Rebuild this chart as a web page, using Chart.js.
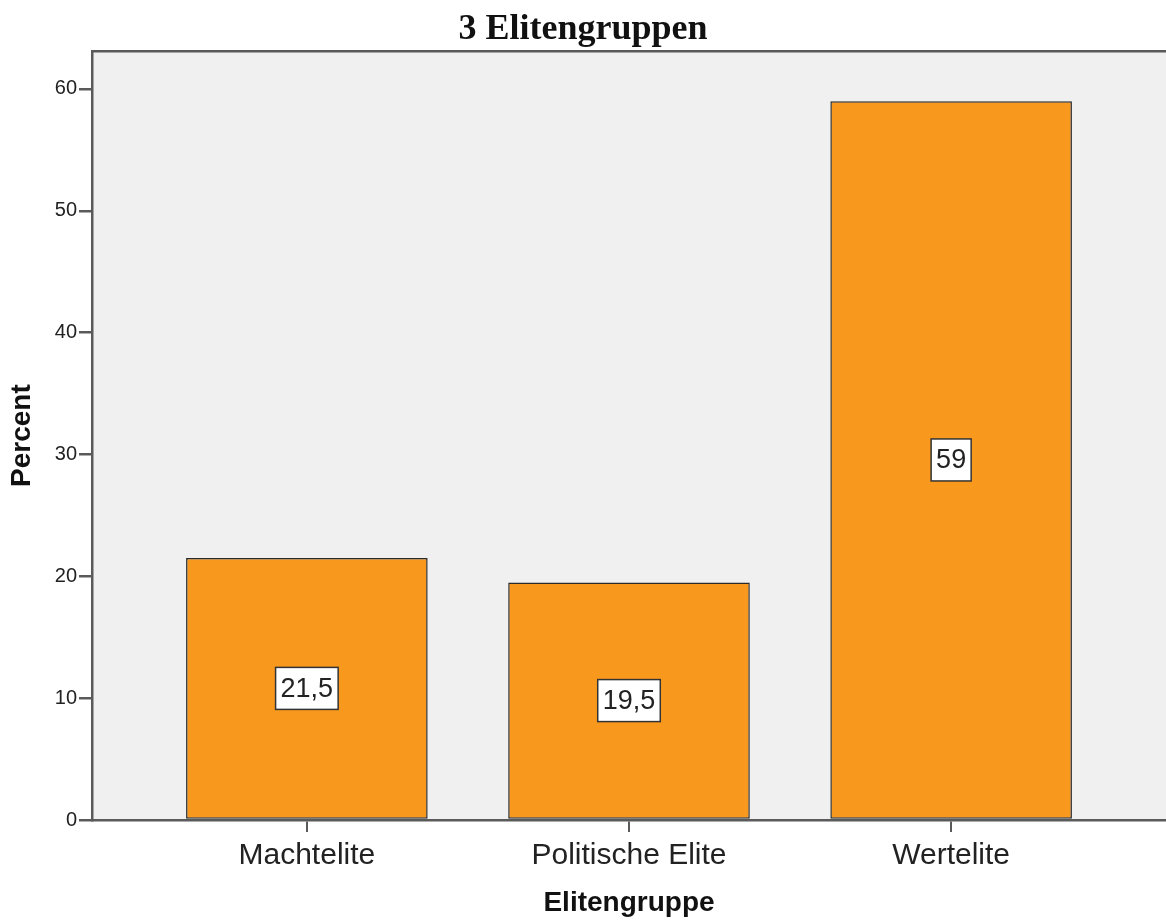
<!DOCTYPE html>
<html lang="de">
<head>
  <meta charset="UTF-8">
  <title>3 Elitengruppen</title>
  <script src="https://cdn.jsdelivr.net/npm/chart.js"></script>
  <style>
    body { margin: 0; background: #ffffff; }
    .chart-box { width: 1166px; height: 920px; }
  </style>
</head>
<body>
  <div class="chart-box">
    <canvas id="eliteChart"></canvas>
  </div>

  <script>
    const categories = ['Machtelite', 'Politische Elite', 'Wertelite'];
    const percents = [21.5, 19.5, 59];
    const valueLabels = ['21,5', '19,5', '59'];
    const yTicks = [0, 10, 20, 30, 40, 50, 60];

    const axisColor = '#5a5a5a';

    // grey plot background plus the top frame line
    const plotFrame = {
      id: 'plotFrame',
      beforeDraw(chart) {
        const { ctx, chartArea: a } = chart;
        ctx.save();
        ctx.fillStyle = '#f0f0f0';
        ctx.fillRect(a.left, a.top, a.right - a.left, a.bottom - a.top);
        ctx.strokeStyle = axisColor;
        ctx.lineWidth = 2.5;
        ctx.beginPath();
        ctx.moveTo(a.left, a.top);
        ctx.lineTo(a.right, a.top);
        ctx.stroke();
        ctx.restore();
      }
    };

    // value labels in white boxes, centred in each bar
    const boxLabels = {
      id: 'boxLabels',
      afterDatasetsDraw(chart) {
        const { ctx } = chart;
        const meta = chart.getDatasetMeta(0);
        ctx.save();
        ctx.font = '27px "Liberation Sans", Arial, sans-serif';
        ctx.textAlign = 'center';
        ctx.textBaseline = 'middle';
        meta.data.forEach((bar, i) => {
          const txt = valueLabels[i];
          const cy = (bar.y + bar.base) / 2;
          const w = ctx.measureText(txt).width + 10;
          const h = 42;
          ctx.fillStyle = '#ffffff';
          ctx.fillRect(bar.x - w / 2, cy - h / 2, w, h);
          ctx.strokeStyle = '#333333';
          ctx.lineWidth = 1.5;
          ctx.strokeRect(bar.x - w / 2, cy - h / 2, w, h);
          ctx.fillStyle = '#222222';
          ctx.fillText(txt, bar.x, cy + 1);
        });
        ctx.restore();
      }
    };

    const ctx = document.getElementById('eliteChart').getContext('2d');
    new Chart(ctx, {
      type: 'bar',
      data: {
        datasets: [{
          label: 'Percent',
          data: percents.map((v, i) => ({ x: i, y: v })),
          backgroundColor: '#f8991d',
          borderColor: '#2a2a2a',
          borderWidth: 1.5,
          borderSkipped: false,
          barPercentage: 0.75,
          categoryPercentage: 1
        }]
      },
      options: {
        responsive: true,
        maintainAspectRatio: false,
        animation: false,
        plugins: {
          legend: { display: false },
          tooltip: { enabled: false },
          title: {
            display: true,
            text: '3 Elitengruppen',
            color: '#111111',
            font: { family: '"Liberation Serif", "Times New Roman", serif', size: 36, weight: 'bold' },
            padding: { top: 8, bottom: 0 }
          }
        },
        scales: {
          x: {
            type: 'linear',
            offset: false,
            min: -0.667,
            max: 2.667,
            afterBuildTicks(scale) {
              scale.ticks = categories.map((c, i) => ({ value: i }));
            },
            afterFit(scale) { scale.height = 100; },
            ticks: {
              callback: (v) => categories[v],
              color: '#222222',
              padding: 6,
              maxRotation: 0,
              autoSkip: false,
              font: { family: '"Liberation Sans", Arial, sans-serif', size: 30 }
            },
            grid: { offset: false, drawOnChartArea: false, tickLength: 12, color: axisColor, lineWidth: 2 },
            border: { color: axisColor, width: 2.5 },
            title: {
              display: true,
              text: 'Elitengruppe',
              color: '#111111',
              padding: 0,
              font: { family: '"Liberation Sans", Arial, sans-serif', size: 28, weight: 'bold' }
            }
          },
          y: {
            min: 0,
            max: 63.1,
            afterBuildTicks(scale) {
              scale.ticks = yTicks.map(v => ({ value: v }));
            },
            afterFit(scale) { scale.width = 92; },
            ticks: {
              color: '#222222',
              padding: 2,
              font: { family: '"Liberation Sans", Arial, sans-serif', size: 20 }
            },
            grid: { drawOnChartArea: false, tickLength: 13, color: axisColor, lineWidth: 2.5 },
            border: { color: axisColor, width: 2.5 },
            title: {
              display: true,
              text: 'Percent',
              color: '#111111',
              padding: { top: 5, bottom: 0 },
              font: { family: '"Liberation Sans", Arial, sans-serif', size: 28, weight: 'bold' }
            }
          }
        }
      },
      plugins: [plotFrame, boxLabels]
    });
  </script>
</body>
</html>
